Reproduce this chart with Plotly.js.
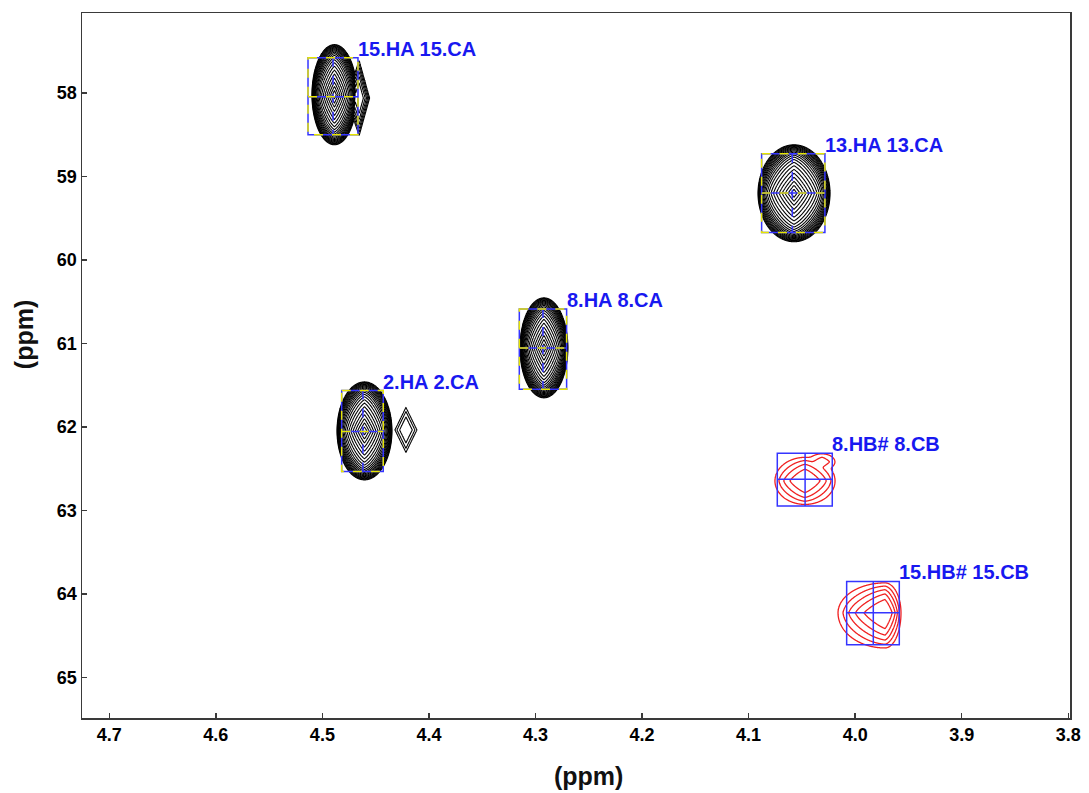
<!DOCTYPE html>
<html><head><meta charset="utf-8">
<script src="https://cdn.plot.ly/plotly-3.0.1.min.js"></script>
<style>html,body{margin:0;padding:0;background:#fff}#chart{width:1089px;height:793px}</style>
</head><body><div id="chart"></div>
<script>
// ---- Peak list (assignment labels, 1H ppm = x, 13C ppm = y) ----
const peakLabels = ['15.HA 15.CA', '13.HA 13.CA', '8.HA 8.CA', '2.HA 2.CA', '8.HB# 8.CB', '15.HB# 15.CB'];
const peakH = [4.490, 4.059, 4.293, 4.462, 4.047, 3.983];
const peakC = [58.044, 59.199, 61.056, 62.056, 62.627, 64.226];
const peakSign = [1, 1, 1, 1, -1, -1];
// integration boxes
const boxHLeft  = [4.5135, 4.0878, 4.3152, 4.4819, 4.0731, 4.0080];
const boxHRight = [4.4666, 4.0284, 4.2708, 4.4429, 4.0215, 3.9586];
const boxCTop    = [57.577, 58.728, 60.589, 61.565, 62.315, 63.852];
const boxCBottom = [58.500, 59.671, 61.548, 62.536, 62.947, 64.611];
// contour components of the spectrum (peak index, centre, half widths, number of contour levels,
// shape 0=oval 1=diamond, profile 0=even 1=heavy rim)
const compPeak    = [0, 0, 1, 2, 3, 3, 4, 4, 5];
const compH       = [4.4887, 4.4655, 4.0574, 4.2921, 4.4605, 4.4216, 4.0471, 4.0312, 3.9720];
const compC       = [58.020, 58.060, 59.201, 61.053, 62.048, 62.036, 62.647, 62.419, 64.229];
const compWLeft   = [0.0211, 0.0120, 0.0338, 0.0225, 0.0258, 0.0103, 0.0282, 0.0122, 0.0441];
const compWRight  = [0.0211, 0.0098, 0.0338, 0.0225, 0.0258, 0.0103, 0.0282, 0.0122, 0.0150];
const compHUp     = [0.600, 0.450, 0.581, 0.599, 0.587, 0.270, 0.282, 0.096, 0.360];
const compHDown   = [0.600, 0.450, 0.581, 0.599, 0.587, 0.270, 0.282, 0.096, 0.420];
const compLevels  = [22, 6, 22, 22, 22, 3, 4, 1.5, 5];
const compShape   = [0, 1, 0, 0, 0, 1, 0, 0, 0];
const compProfile = [1, 0, 1, 1, 1, 0, 0, 0, 0];
// axis ticks
const xTicks = [4.7, 4.6, 4.5, 4.4, 4.3, 4.2, 4.1, 4.0, 3.9, 3.8];
const yTicks = [58, 59, 60, 61, 62, 63, 64, 65];

const BLUE = '#3535ff', LABEL_BLUE = '#1818f0', YELLOW = '#e6e600';

function shapeG(u, v, mode) {
  const r = Math.sqrt(u * u + v * v);
  const d = Math.abs(u) + Math.abs(v);
  if (mode === 1) return d;
  const w = Math.min(1, r);
  return w * r + (1 - w) * d;
}
function profileZ(g, n, prof) {
  if (prof === 1) return n * (0.55 * (1 - g) + 0.45 * (1 - Math.pow(g, 8)));
  return n * (1 - g * g);
}

const sMix = 3;
const traces = [];
for (let p = 0; p < peakLabels.length; p++) {
  const comps = [];
  for (let c = 0; c < compPeak.length; c++) if (compPeak[c] === p) comps.push(c);
  let xLo = Infinity, xHi = -Infinity, yLo = Infinity, yHi = -Infinity, nMax = 0;
  comps.forEach(c => {
    xLo = Math.min(xLo, compH[c] - compWRight[c]); xHi = Math.max(xHi, compH[c] + compWLeft[c]);
    yLo = Math.min(yLo, compC[c] - compHUp[c]); yHi = Math.max(yHi, compC[c] + compHDown[c]);
    nMax = Math.max(nMax, Math.floor(compLevels[c]));
  });
  xLo -= 0.008; xHi += 0.008; yLo -= 0.1; yHi += 0.1;
  const NX = 220, NY = 260;
  const xs = [], ys = [], z = [];
  for (let i = 0; i < NX; i++) xs.push(xLo + (xHi - xLo) * i / (NX - 1));
  for (let j = 0; j < NY; j++) ys.push(yLo + (yHi - yLo) * j / (NY - 1));
  for (let j = 0; j < NY; j++) {
    const row = [];
    for (let i = 0; i < NX; i++) {
      let sum = 0;
      comps.forEach(c => {
        const dx = xs[i] - compH[c], dy = ys[j] - compC[c];
        const u = dx / (dx > 0 ? compWLeft[c] : compWRight[c]);
        const v = dy / (dy > 0 ? compHDown[c] : compHUp[c]);
        const g = Math.min(shapeG(u, v, compShape[c]), 2);
        const zc = profileZ(g, compLevels[c], compProfile[c]);
        sum += Math.exp(sMix * Math.max(zc, -40));
      });
      row.push(Math.log(sum) / sMix);
    }
    z.push(row);
  }
  traces.push({
    type: 'contour', x: xs, y: ys, z: z,
    autocontour: false,
    contours: {start: 0, end: nMax - 1, size: 1, coloring: 'none'},
    line: {color: peakSign[p] > 0 ? '#000000' : '#f02020', width: peakSign[p] > 0 ? 1.1 : 1.3, smoothing: 0.6},
    showscale: false, hoverinfo: 'skip', showlegend: false
  });
}

const shapes = [];
const annotations = [];
for (let p = 0; p < peakLabels.length; p++) {
  const black = peakSign[p] > 0;
  shapes.push({type: 'rect', xref: 'x', yref: 'y', x0: boxHLeft[p], x1: boxHRight[p], y0: boxCTop[p], y1: boxCBottom[p],
    line: {color: BLUE, width: 1.5}, layer: 'above'});
  shapes.push({type: 'line', xref: 'x', yref: 'y', x0: boxHLeft[p], x1: boxHRight[p], y0: peakC[p], y1: peakC[p],
    line: {color: BLUE, width: 1.5}, layer: 'above'});
  shapes.push({type: 'line', xref: 'x', yref: 'y', x0: peakH[p], x1: peakH[p], y0: boxCTop[p], y1: boxCBottom[p],
    line: {color: BLUE, width: 1.5, dash: black ? 'dash' : 'solid'}, layer: 'above'});
  if (black) {
    shapes.push({type: 'rect', xref: 'x', yref: 'y', x0: boxHLeft[p], x1: boxHRight[p], y0: boxCTop[p], y1: boxCBottom[p],
      line: {color: YELLOW, width: 1.5, dash: 'dash'}, layer: 'above'});
    shapes.push({type: 'line', xref: 'x', yref: 'y', x0: boxHLeft[p], x1: boxHRight[p], y0: peakC[p], y1: peakC[p],
      line: {color: YELLOW, width: 1.5, dash: 'dash'}, layer: 'above'});
  }
  annotations.push({x: boxHRight[p], y: boxCTop[p], xref: 'x', yref: 'y', xanchor: 'left', yanchor: 'bottom',
    text: peakLabels[p], showarrow: false, xshift: -2, yshift: -4,
    font: {family: 'Liberation Sans, Arial, sans-serif', size: 20, color: LABEL_BLUE, weight: 'bold'}});
}
annotations.push({x: 0.513, y: -0.082, xref: 'paper', yref: 'paper', xanchor: 'center', yanchor: 'middle',
  text: '(ppm)', showarrow: false, font: {family: 'Liberation Sans, Arial, sans-serif', size: 25, color: '#111', weight: 'bold'}});
annotations.push({x: -0.0587, y: 0.543, xref: 'paper', yref: 'paper', xanchor: 'center', yanchor: 'middle', textangle: -90,
  text: '(ppm)', showarrow: false, font: {family: 'Liberation Sans, Arial, sans-serif', size: 25, color: '#111', weight: 'bold'}});

const axisCommon = {
  showgrid: false, zeroline: false, showline: true, mirror: true, linecolor: '#3a3a3a', linewidth: 1.5,
  ticks: 'inside', ticklen: 5, tickwidth: 1.5, tickcolor: '#3a3a3a',
  tickfont: {family: 'Liberation Sans, Arial, sans-serif', size: 18, color: '#000', weight: 'bold'}
};
const layout = {
  width: 1089, height: 793,
  margin: {l: 82, r: 19, t: 13, b: 75},
  paper_bgcolor: '#fff', plot_bgcolor: '#fff',
  xaxis: Object.assign({}, axisCommon, {range: [4.7256, 3.7984], tickvals: xTicks, ticktext: xTicks.map(v => v.toFixed(1))}),
  yaxis: Object.assign({}, axisCommon, {range: [65.488, 57.041], tickvals: yTicks, ticktext: yTicks.map(String)}),
  shapes: shapes, annotations: annotations, showlegend: false
};
Plotly.newPlot('chart', traces, layout, {displayModeBar: false, staticPlot: true});
</script></body></html>
